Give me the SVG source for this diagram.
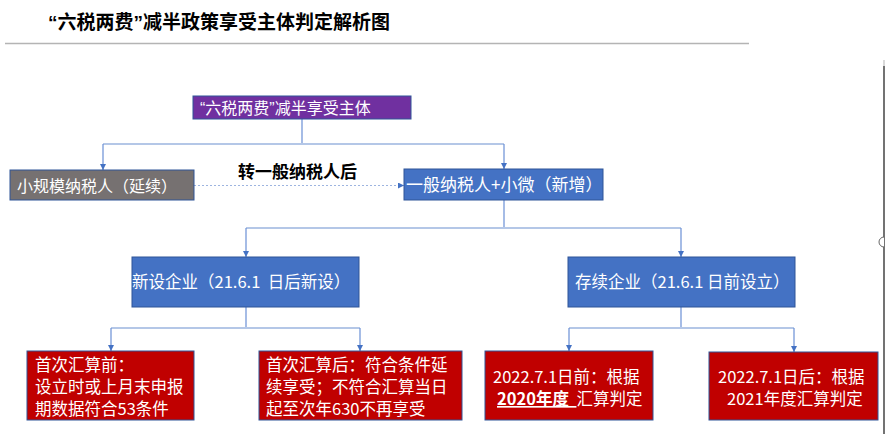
<svg xmlns="http://www.w3.org/2000/svg" width="885" height="434" viewBox="0 0 885 434">
<defs>
<style>
.t{fill:#fff;}
.cjk{font-family:"Noto Sans CJK SC","Liberation Sans",sans-serif;}
.q{font-family:"Liberation Sans",sans-serif;}
.box{stroke:#2F5597;stroke-width:1;}
.v{stroke:#6A8FD6;stroke-width:1.2;fill:none;}
.h{stroke:#B4C7E7;stroke-width:2;fill:none;}
.dot{stroke:#9DB4E0;stroke-width:1.2;stroke-dasharray:2 2;fill:none;}
</style>
<marker id="ah" viewBox="0 0 10 10" refX="10" refY="5" markerWidth="6" markerHeight="6" orient="auto" markerUnits="userSpaceOnUse">
<path d="M0,0 L10,5 L0,10 z" fill="#4472C4"/>
</marker>
</defs>
<rect width="885" height="434" fill="#fff"/>
<g id="title">
<text x="48" y="29" class="cjk" font-size="19" font-weight="bold" fill="#000"><tspan class="q">“</tspan>六税两费<tspan class="q">”</tspan>减半政策享受主体判定解析图</text>
<line x1="5" y1="43.5" x2="749" y2="43.5" stroke="#b4b4b4" stroke-width="1.5"/>
</g>
<g id="edge">
<line x1="884" y1="60" x2="884" y2="66" stroke="#ccc" stroke-width="1.5"/>
<line x1="884" y1="66" x2="884" y2="434" stroke="#444" stroke-width="1.5"/>
<path d="M884,237 A5,5 0 0 0 884,247" fill="#fff" stroke="#666" stroke-width="1"/>
</g>
<g id="connectors">
<line class="v" x1="302" y1="119" x2="302" y2="144"/>
<line class="h" x1="103" y1="144" x2="504" y2="144"/>
<line class="v" x1="103" y1="144" x2="103" y2="170" marker-end="url(#ah)"/>
<line class="v" x1="504" y1="144" x2="504" y2="169" marker-end="url(#ah)"/>
<line class="dot" x1="194" y1="185.5" x2="404" y2="185.5" marker-end="url(#ah)"/>
<line class="v" x1="504" y1="200" x2="504" y2="228"/>
<line class="h" x1="246" y1="228" x2="681" y2="228"/>
<line class="v" x1="246" y1="228" x2="246" y2="257" marker-end="url(#ah)"/>
<line class="v" x1="681" y1="228" x2="681" y2="257" marker-end="url(#ah)"/>
<line class="v" x1="246" y1="307" x2="246" y2="328"/>
<line class="h" x1="111" y1="328" x2="360" y2="328"/>
<line class="v" x1="111" y1="328" x2="111" y2="351" marker-end="url(#ah)"/>
<line class="v" x1="360" y1="328" x2="360" y2="351" marker-end="url(#ah)"/>
<line class="v" x1="681" y1="307" x2="681" y2="328"/>
<line class="h" x1="569" y1="328" x2="794" y2="328"/>
<line class="v" x1="569" y1="328" x2="569" y2="351" marker-end="url(#ah)"/>
<line class="v" x1="794" y1="328" x2="794" y2="352" marker-end="url(#ah)"/>
<text x="238" y="178" class="cjk" font-size="17" font-weight="bold" fill="#000">转一般纳税人后</text>
</g>
<g id="root">
<rect class="box" x="193" y="96" width="218" height="23" fill="#7030A0"/>
<text class="t cjk" x="200" y="114" font-size="16"><tspan class="q">“</tspan>六税两费<tspan class="q">”</tspan>减半享受主体</text>
</g>
<g id="small">
<rect class="box" x="10" y="170" width="184" height="30" fill="#767171"/>
<text class="t cjk" x="17" y="192" font-size="16">小规模纳税人（延续）</text>
</g>
<g id="general">
<rect class="box" x="404" y="169" width="199" height="31" fill="#4472C4"/>
<text class="t cjk" x="406" y="191" font-size="17">一般纳税人+小微（新增）</text>
</g>
<g id="newco">
<rect class="box" x="132" y="257" width="227" height="50" fill="#4472C4"/>
<text class="t cjk" x="132" y="288" font-size="16.5" xml:space="preserve">新设企业（21.6.1  日后新设）</text>
</g>
<g id="existco">
<rect class="box" x="568" y="257" width="227" height="50" fill="#4472C4"/>
<text class="t cjk" x="575" y="288" font-size="16.5">存续企业（21.6.1 日前设立）</text>
</g>
<g id="r1">
<rect class="box" x="27" y="351" width="167" height="69" fill="#C00000"/>
<text class="t cjk" font-size="16.5"><tspan x="35" y="371">首次汇算前：</tspan><tspan x="35" y="393">设立时或上月末申报</tspan><tspan x="35" y="415">期数据符合53条件</tspan></text>
</g>
<g id="r2">
<rect class="box" x="259" y="351" width="203" height="69" fill="#C00000"/>
<text class="t cjk" font-size="16.5"><tspan x="266" y="371">首次汇算后：符合条件延</tspan><tspan x="266" y="393">续享受；不符合汇算当日</tspan><tspan x="266" y="415">起至次年630不再享受</tspan></text>
</g>
<g id="r3">
<rect class="box" x="485" y="351" width="168" height="69" fill="#C00000"/>
<text class="t cjk" font-size="16.5" xml:space="preserve"><tspan x="493" y="383">2022.7.1日前：根据</tspan><tspan x="497" y="405" font-weight="bold" text-decoration="underline">2020年度  </tspan><tspan>汇算判定</tspan></text>
</g>
<g id="r4">
<rect class="box" x="709" y="352" width="169" height="68" fill="#C00000"/>
<text class="t cjk" font-size="16.5"><tspan x="718" y="383">2022.7.1日后：根据</tspan><tspan x="727" y="405">2021年度汇算判定</tspan></text>
</g>
</svg>
